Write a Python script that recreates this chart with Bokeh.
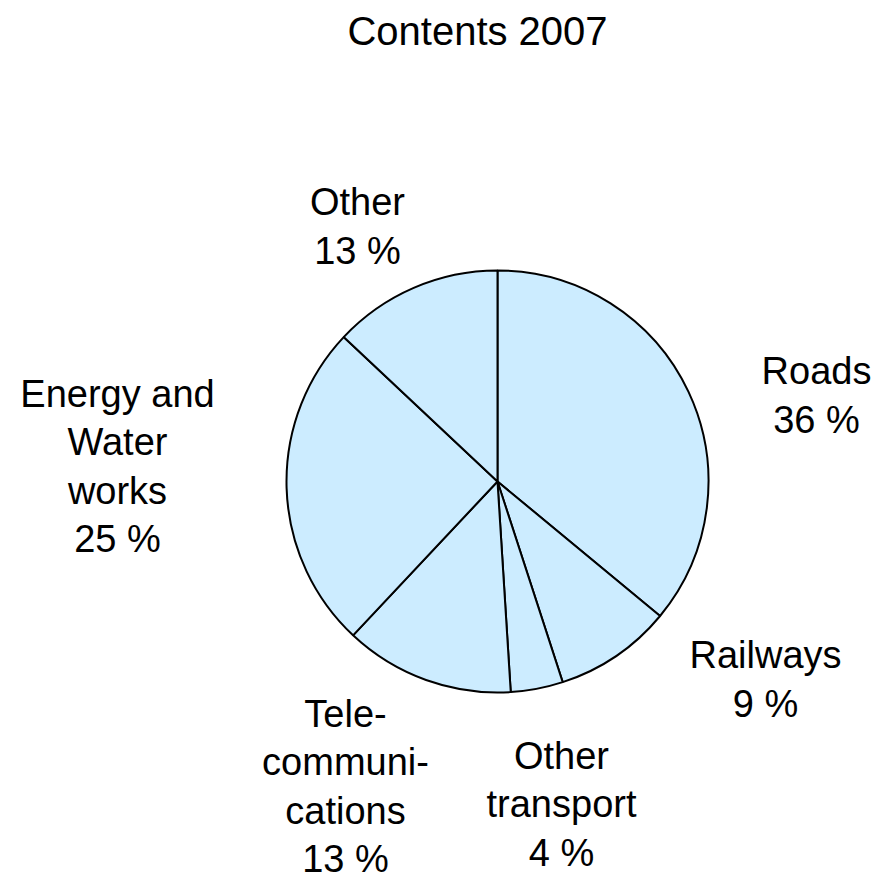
import math
from bokeh.plotting import figure
from bokeh.models import Range1d, ColumnDataSource
from bokeh.core.properties import value
from bokeh.embed import file_html
from bokeh.resources import INLINE

# ---- data ----
categories = ["Roads", "Railways", "Other transport", "Telecommunications", "Energy and Water works", "Other"]
label_texts = ["Roads", "Railways", "Other\ntransport", "Tele-\ncommuni-\ncations", "Energy and\nWater\nworks", "Other"]
shares = [36, 9, 4, 13, 25, 13]
title_text = "Contents 2007"

# ---- layout (image pixel coordinates) ----
W, H = 892, 883
cx, cy_img, radius = 497, 481, 211
label_pos_img = [(816, 395), (765, 679), (561, 804), (345, 786), (117, 466), (357, 226)]
title_pos_img = (477, 30)
fill = "#CCECFF"
font = value("Liberation Sans")

p = figure(width=W, height=H, output_backend="svg", toolbar_location=None,
           x_range=Range1d(0, W), y_range=Range1d(0, H),
           min_border=0, background_fill_color="white", border_fill_color="white")
p.axis.visible = False
p.grid.visible = False
p.outline_line_color = None

total = float(sum(shares))
starts, ends = [], []
acc = 0.0
for s in shares:
    a0 = math.pi / 2 - 2 * math.pi * acc / total
    acc += s
    a1 = math.pi / 2 - 2 * math.pi * acc / total
    starts.append(a0)
    ends.append(a1)

src = ColumnDataSource(dict(cat=categories, start=starts, end=ends))
p.wedge(x=cx, y=H - cy_img, radius=radius, start_angle="start", end_angle="end",
        direction="clock", source=src, fill_color=fill, line_color="black", line_width=2)

labels = [f"{t}\n{s} %" for t, s in zip(label_texts, shares)]
lsrc = ColumnDataSource(dict(x=[q[0] for q in label_pos_img],
                             y=[H - q[1] for q in label_pos_img],
                             text=labels))
p.text(x="x", y="y", text="text", source=lsrc, text_font=font, text_font_size="38px",
       text_align="center", text_baseline="middle", text_line_height=1.15, text_color="black")

p.text(x=[title_pos_img[0]], y=[H - title_pos_img[1]], text=[title_text], text_font=font,
       text_font_size="40px", text_align="center", text_baseline="middle", text_color="black")

open("out.html", "w").write(file_html(p, INLINE))
